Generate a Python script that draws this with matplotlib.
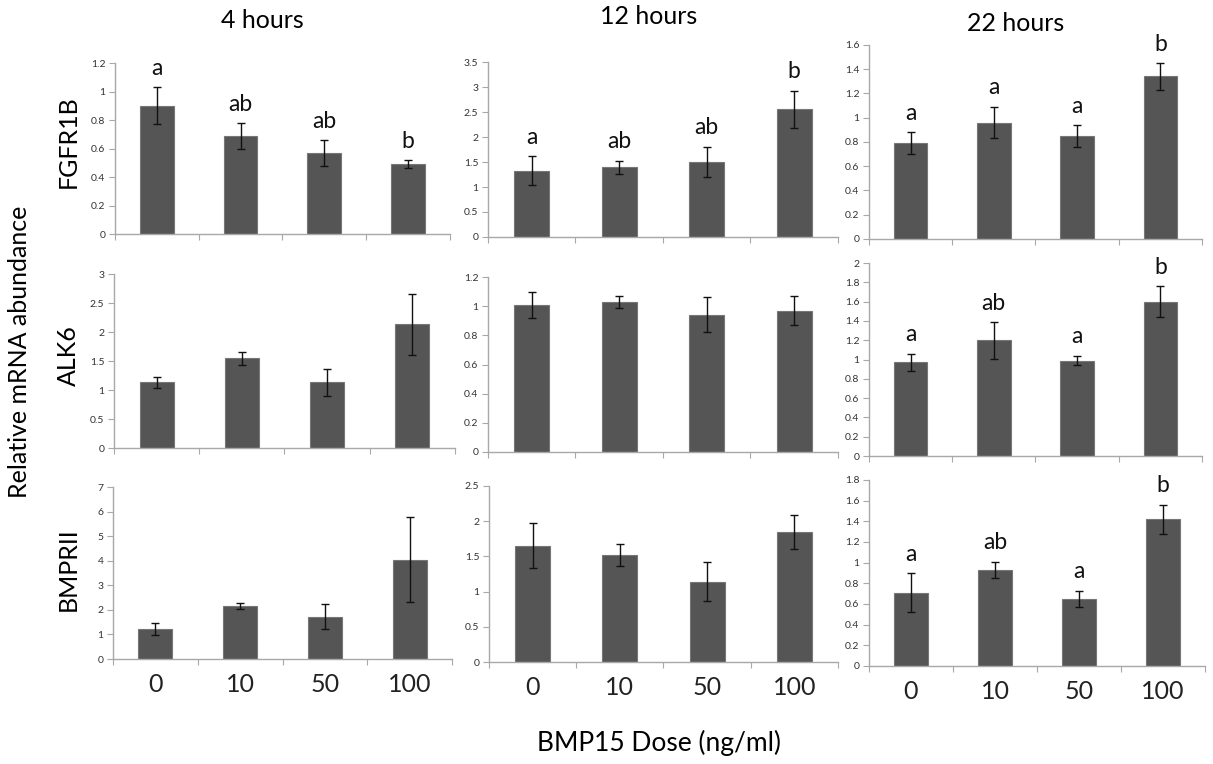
import matplotlib
matplotlib.use('Agg')
import matplotlib.pyplot as plt
from matplotlib.ticker import FuncFormatter, FixedLocator
import numpy as np

plt.rcParams['font.family'] = ['Lato', 'DejaVu Sans']

doses = ['0', '10', '50', '100']
times = ['4 hours', '12 hours', '22 hours']
genes = ['FGFR1B', 'ALK6', 'BMPRII']

# FGFR1B
fgfr_4h = [0.90, 0.69, 0.57, 0.49]
fgfr_4h_err = [0.13, 0.09, 0.09, 0.03]
fgfr_12h = [1.33, 1.40, 1.51, 2.56]
fgfr_12h_err = [0.29, 0.13, 0.30, 0.37]
fgfr_22h = [0.79, 0.96, 0.85, 1.34]
fgfr_22h_err = [0.09, 0.13, 0.09, 0.11]
# ALK6
alk6_4h = [1.13, 1.55, 1.13, 2.13]
alk6_4h_err = [0.10, 0.11, 0.24, 0.53]
alk6_12h = [1.01, 1.03, 0.94, 0.97]
alk6_12h_err = [0.09, 0.04, 0.12, 0.10]
alk6_22h = [0.97, 1.20, 0.99, 1.60]
alk6_22h_err = [0.09, 0.19, 0.05, 0.16]
# BMPRII
bmpr_4h = [1.22, 2.16, 1.73, 4.05]
bmpr_4h_err = [0.25, 0.11, 0.50, 1.73]
bmpr_12h = [1.65, 1.52, 1.14, 1.85]
bmpr_12h_err = [0.32, 0.16, 0.28, 0.24]
bmpr_22h = [0.71, 0.93, 0.65, 1.42]
bmpr_22h_err = [0.19, 0.08, 0.08, 0.14]

# significance letters (None = no letters)
fgfr_4h_sig = ['a', 'ab', 'ab', 'b']
fgfr_12h_sig = ['a', 'ab', 'ab', 'b']
fgfr_22h_sig = ['a', 'a', 'a', 'b']
alk6_22h_sig = ['a', 'ab', 'a', 'b']
bmpr_22h_sig = ['a', 'ab', 'a', 'b']

panels = [
	[(fgfr_4h, fgfr_4h_err, fgfr_4h_sig, 1.2, 0.2), (fgfr_12h, fgfr_12h_err, fgfr_12h_sig, 3.5, 0.5), (fgfr_22h, fgfr_22h_err, fgfr_22h_sig, 1.6, 0.2)],
	[(alk6_4h, alk6_4h_err, None, 3, 0.5), (alk6_12h, alk6_12h_err, None, 1.2, 0.2), (alk6_22h, alk6_22h_err, alk6_22h_sig, 2, 0.2)],
	[(bmpr_4h, bmpr_4h_err, None, 7, 1), (bmpr_12h, bmpr_12h_err, None, 2.5, 0.5), (bmpr_22h, bmpr_22h_err, bmpr_22h_sig, 1.8, 0.2)],
]

# axes rectangles (left, bottom, width, height) in figure fraction
rects = [
	[(0.0948, 0.6937, 0.276, 0.2238), (0.4023, 0.6898, 0.2885, 0.229), (0.7164, 0.6872, 0.2745, 0.254)],
	[(0.094, 0.4136, 0.281, 0.2277), (0.4023, 0.4084, 0.2885, 0.229), (0.7164, 0.4031, 0.2745, 0.2526)],
	[(0.0932, 0.1374, 0.2795, 0.2251), (0.4031, 0.1335, 0.2877, 0.2304), (0.7164, 0.1283, 0.277, 0.2435)],
]

fig = plt.figure(figsize=(12.13, 7.64), dpi=100)
x = np.arange(len(doses))
axcol = '#a8a8a8'

for r in range(3):
	for c in range(3):
		vals, errs, sig, ymax, step = panels[r][c]
		ax = fig.add_axes(rects[r][c])
		ax.bar(x, vals, width=0.4, color='#555555', edgecolor='#777777', linewidth=0.8, zorder=2)
		ax.errorbar(x, vals, yerr=errs, fmt='none', ecolor='#111111', elinewidth=1.0, capsize=3, capthick=1.0, zorder=3)
		ax.set_xlim(-0.5, 3.5)
		ax.set_ylim(0, ymax)
		ax.yaxis.set_major_locator(FixedLocator(np.arange(0, ymax + step / 2, step)))
		ax.yaxis.set_major_formatter(FuncFormatter(lambda v, p: '%g' % round(v, 2)))
		ax.xaxis.set_major_locator(FixedLocator(np.arange(-0.5, 4, 1)))
		ax.xaxis.set_minor_locator(FixedLocator(x))
		ax.set_xticklabels([])
		if r == 2:
			ax.set_xticklabels(doses, minor=True, fontsize=18, color='#222222')
		ax.tick_params(axis='x', which='minor', length=0, pad=10)
		ax.tick_params(axis='x', which='major', length=4, color=axcol, direction='out')
		ax.tick_params(axis='y', length=4, color=axcol, labelsize=7.5, labelcolor='#333333', pad=3)
		for s in ['top', 'right']:
			ax.spines[s].set_visible(False)
		for s in ['left', 'bottom']:
			ax.spines[s].set_color(axcol)
			ax.spines[s].set_linewidth(1.0)
		if sig:
			for xi, v, e, t in zip(x, vals, errs, sig):
				ax.annotate(t, (xi, v + e), xytext=(0, 6), textcoords='offset points',
					ha='center', va='bottom', fontsize=16.5, color='#111111')

title_x = [0.216, 0.535, 0.837]
title_y = [0.973, 0.978, 0.969]
for c, t in enumerate(times):
	fig.text(title_x[c], title_y[c], t, ha='center', va='center', fontsize=18)

row_y = [0.815, 0.535, 0.255]
for r, g in enumerate(genes):
	fig.text(0.056, row_y[r], g, rotation=90, ha='center', va='center', fontsize=18)

fig.text(0.016, 0.54, 'Relative mRNA abundance', rotation=90, ha='center', va='center', fontsize=18)
fig.text(0.543, 0.027, 'BMP15 Dose (ng/ml)', ha='center', va='center', fontsize=19)

plt.savefig('out.png', dpi=100)
